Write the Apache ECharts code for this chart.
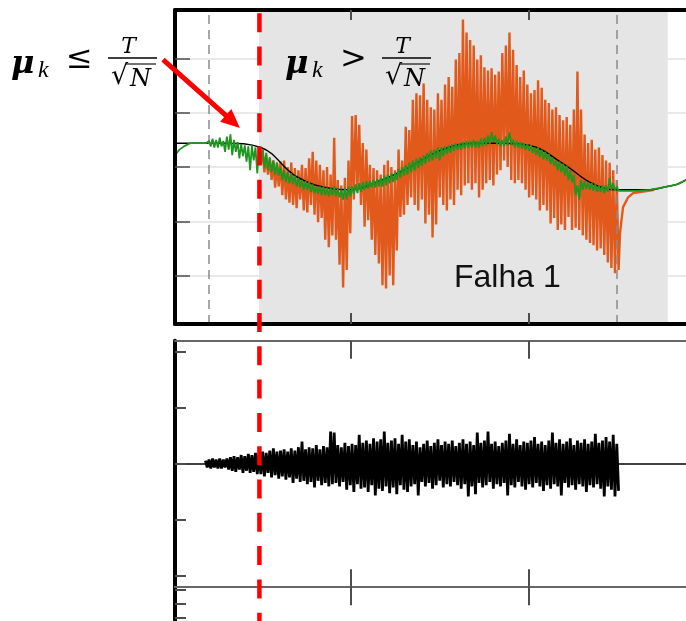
<!DOCTYPE html>
<html>
<head>
<meta charset="utf-8">
<script src="https://cdn.jsdelivr.net/npm/echarts@6/dist/echarts.min.js"></script>
<style>
  html, body { margin: 0; padding: 0; background: #fff; overflow: hidden; }
  #chart { width: 720px; height: 621px; }
</style>
</head>
<body>
<div id="chart"></div>
<script>
// ---- time base (samples) ----
const T_MIN = 20, T_MAX = 3000;
const STEP = 20;                       // sampling step of the recorded signals
const xTicks = [1000, 2000];
const yTicksTop = [-100, -50, 0, 50, 100];
const yTicksBottom = [-100, -50, 0, 50, 100];

// ---- events ----
const detectT = 492;                   // first sample where mu_k > T/sqrt(N)
const faultShade = [490, 2775];        // shaded fault window
const markerT = [210, 2490];           // fault onset / fault removal

// ---- reference trajectory ----
const refT = [20, 300, 500, 700, 900, 1000, 1100, 1300, 1500, 1700, 1850, 2000, 2200, 2350, 2490, 2676, 2771, 2827, 2877, 2950, 3000];
const refV = [22, 22, 18, -9, -20, -21, -17, -3, 15, 22, 22, 20, 2, -15, -21, -21, -18, -16, -12, -6, -1];

// ---- faulty measurement (upper / lower swing per sample) ----
const orangeStart = 490;
const orangeHi = [14,16,11,8,6,4,5,6,0,4,
  -1,-3,2,-1,8,14,6,2,-3,0,
  -7,27,-12,-17,-10,6,47,48,39,22,
  16,2,-1,-3,-7,2,6,0,-3,16,
  6,37,34,62,68,66,77,62,55,53,
  68,62,76,83,74,99,105,136,124,117,
  112,99,103,92,89,91,85,88,105,112,
  124,108,94,83,89,76,68,71,80,73,
  62,59,53,55,48,43,46,39,53,88,
  53,30,22,25,16,18,11,6,4,-3,
  -12];
const orangeLo = [2,-5,-7,-12,-19,-18,-26,-30,-33,-35,
  -38,-30,-40,-42,-35,-44,-51,-47,-67,-74,
  -63,-67,-90,-111,-95,-61,-30,-21,-35,-55,
  -49,-67,-81,-89,-109,-112,-100,-109,-77,-46,
  -44,-35,-28,-35,-40,-30,-52,-44,-65,-53,
  -28,-35,-40,-30,-35,-21,-26,-17,-15,-21,
  -15,-28,-21,-15,-12,-17,-7,-3,6,0,
  -12,-15,-12,-15,-21,-28,-26,-30,-40,-35,
  -40,-52,-47,-58,-53,-58,-46,-58,-56,-58,
  -63,-67,-70,-72,-77,-75,-81,-88,-93,-98,
  -95];
const orangeTailT = [2508, 2525, 2553, 2581, 2620, 2700];
const orangeTailV = [-61, -37, -28, -24, -23, -21];

// ---- estimate ----
const greenHeadT = [20, 45, 70, 105, 150, 195];
const greenHeadV = [11, 16, 19, 22, 22, 22];
const greenStart = 210;
const greenHi = [24,26,25,27,24,28,30,25,23,21,
  20,19,20,18,18,16,13,9,6,4,
  0,-3,-5,-6,-8,-10,-12,-13,-14,-16,
  -18,-18,-18,-19,-19,-18,-20,-21,-19,-18,
  -18,-16,-15,-14,-13,-13,-12,-11,-10,-8,
  -7,-6,-5,-2,0,2,4,6,8,9,
  11,13,15,16,18,18,19,20,21,22,
  22,23,24,24,25,24,26,27,29,32,
  29,26,25,28,32,25,24,23,22,21,
  20,18,18,16,14,12,9,6,5,3,
  1,-3,-7,-17,-12,-13,-14,-15,-16,-17,
  -17,-17,-10,-15,-18];
const greenLo = [19,18,18,19,14,16,11,14,8,10,
  5,-3,6,-6,2,-1,-3,-5,-7,-8,
  -12,-14,-15,-16,-18,-19,-21,-21,-23,-24,
  -25,-26,-26,-27,-26,-27,-28,-30,-30,-27,
  -25,-24,-23,-21,-20,-19,-19,-18,-18,-17,
  -15,-14,-12,-10,-8,-7,-5,-3,-1,1,
  3,5,6,8,6,10,12,13,15,16,
  16,17,18,18,18,18,19,20,21,23,
  21,19,19,20,21,18,18,17,16,15,
  13,11,9,7,6,3,1,-3,-5,-8,
  -12,-14,-26,-30,-21,-20,-21,-22,-23,-23,
  -24,-23,-21,-22,-22];
const greenTailT = [2510, 2600, 2676, 2771, 2827, 2877, 2950, 3000];
const greenTailV = [-21, -22, -21, -18, -16, -12, -6, -1];

// ---- injected disturbance (lower panel) ----
const vibLeadT = [20, 190];
const vibLeadV = [0, 0];
const vibStart = 190;
const vibHi = [3,4,5,4,5,4,5,
  6,7,6,8,7,9,8,10,
  10,11,10,12,14,11,12,
  13,11,14,12,15,20,13,
  15,14,17,13,16,15,29,28,
  17,15,19,16,18,17,26,
  19,21,18,23,20,22,29,19,21,23,18,26,20,22,
  17,20,15,18,21,16,19,22,17,20,18,21,16,19,22,18,20,17,28,19,21,29,18,20,16,19,21,27,18,22,
  17,20,19,21,24,18,20,17,21,28,19,22,18,20,23,17,21,19,22,18,20,27,19,21,24,20,26,18];
const vibLo = [-3,-4,-3,-4,-4,-3,-5,
  -6,-7,-5,-8,-6,-8,-7,-9,
  -9,-11,-8,-12,-10,-13,-11,
  -14,-12,-17,-13,-16,-15,-18,
  -16,-21,-15,-19,-17,-20,-18,-17,
  -20,-16,-23,-19,-25,-18,-22,
  -21,-25,-19,-28,-22,-24,-20,-26,-21,-27,-19,-23,-25,-20,
  -18,-28,-16,-20,-17,-22,-19,-15,-21,-18,-20,-16,-19,-22,-18,-29,-20,-27,-17,-21,-19,-16,-22,-18,-20,-17,-28,-19,-21,-16,
  -20,-23,-18,-21,-17,-20,-24,-19,-22,-18,-20,-28,-17,-21,-19,-23,-18,-20,-25,-19,-21,-18,-22,-29,-20,-23,-29,-24];
const vibTrailT = [2500, 3000];
const vibTrailV = [0, 0];

// ---- helpers ----
const pairs = (ts, vs) => ts.map((t, i) => [t, vs[i]]);
function swing(t0, hi, lo) {
  const out = [];
  for (let i = 0; i < hi.length; i++) {
    out.push([t0 + i * STEP, hi[i]]);
    out.push([t0 + i * STEP + STEP / 2, lo[i]]);
  }
  return out;
}

const TOP_MAX = 144.7, BOT_MAX = 110;
const TICK = '#4d4d4d';
const SERIF = '"Liberation Serif","DejaVu Serif",serif';
const MATH = '"DejaVu Serif","Liberation Serif",serif';

const chart = echarts.init(document.getElementById('chart'), null, { renderer: 'canvas' });

function xAxisDef(grid, pos, lineColor, lineWidth, tickLen) {
  return {
    gridIndex: grid, type: 'value', position: pos, min: T_MIN, max: T_MAX, z: 10,
    axisLine: { show: true, onZero: false, lineStyle: { color: lineColor, width: lineWidth } },
    axisTick: { show: true, inside: true, length: tickLen, customValues: xTicks, lineStyle: { color: TICK, width: 2 } },
    axisLabel: { show: false }, splitLine: { show: false }
  };
}

const option = {
  animation: false,
  backgroundColor: '#fff',
  grid: [
    { left: 175, top: 10, width: 533, height: 314 },
    { left: 175, top: 340.8, width: 533, height: 246.4 },
    { left: 175, top: 587.2, width: 533, height: 246.4 }
  ],
  xAxis: [
    xAxisDef(0, 'bottom', '#000', 4, 11),
    xAxisDef(0, 'top', '#000', 4, 10),
    xAxisDef(1, 'bottom', '#666', 2, 18),
    xAxisDef(1, 'top', '#666', 2, 18),
    xAxisDef(2, 'top', '#666', 2, 18)
  ],
  yAxis: [
    { gridIndex: 0, type: 'value', min: -TOP_MAX, max: TOP_MAX, z: 0,
      axisLine: { show: false }, axisTick: { show: false, customValues: yTicksTop }, axisLabel: { show: false },
      splitLine: { show: true, lineStyle: { color: '#e2e2e2', width: 1.5 } } },
    { gridIndex: 0, type: 'value', min: -TOP_MAX, max: TOP_MAX, z: 10, position: 'left',
      axisLine: { show: true, onZero: false, lineStyle: { color: '#000', width: 4 } },
      axisTick: { show: true, inside: true, length: 15, customValues: yTicksTop, lineStyle: { color: TICK, width: 1.5 } },
      axisLabel: { show: false }, splitLine: { show: false } },
    { gridIndex: 1, type: 'value', min: -BOT_MAX, max: BOT_MAX, z: 10,
      axisLine: { show: true, onZero: false, lineStyle: { color: '#000', width: 4 } },
      axisTick: { show: true, inside: true, length: 11, customValues: yTicksBottom, lineStyle: { color: TICK, width: 2 } },
      axisLabel: { show: false }, splitLine: { show: false } },
    { gridIndex: 2, type: 'value', min: -BOT_MAX, max: BOT_MAX, z: 10,
      axisLine: { show: true, onZero: false, lineStyle: { color: '#000', width: 4 } },
      axisTick: { show: true, inside: true, length: 11, customValues: yTicksBottom, lineStyle: { color: TICK, width: 2 } },
      axisLabel: { show: false }, splitLine: { show: false } }
  ],
  series: [
    { name: 'fault window', type: 'line', xAxisIndex: 0, yAxisIndex: 0, data: [], z: 1, silent: true,
      markArea: { silent: true, itemStyle: { color: '#e5e5e5' },
        data: [[{ xAxis: faultShade[0] }, { xAxis: faultShade[1] }]] } },
    { name: 'events', type: 'line', xAxisIndex: 0, yAxisIndex: 0, data: [], z: 2, silent: true,
      markLine: { silent: true, symbol: 'none', label: { show: false },
        lineStyle: { color: '#8a8a8a', type: [9, 6], width: 1.5 },
        data: markerT.map(t => ({ xAxis: t })) } },
    { name: 'measurement', type: 'line', xAxisIndex: 0, yAxisIndex: 0, z: 3, symbol: 'none',
      data: swing(orangeStart, orangeHi, orangeLo).concat(pairs(orangeTailT, orangeTailV)),
      lineStyle: { color: '#e2591c', width: 2.4, join: 'miter', miterLimit: 3 } },
    { name: 'reference', type: 'line', xAxisIndex: 0, yAxisIndex: 0, z: 4, symbol: 'none',
      data: pairs(refT, refV), smooth: 0.4,
      lineStyle: { color: '#000', width: 1.5 } },
    { name: 'estimate', type: 'line', xAxisIndex: 0, yAxisIndex: 0, z: 5, symbol: 'none',
      data: pairs(greenHeadT, greenHeadV).concat(swing(greenStart, greenHi, greenLo), pairs(greenTailT, greenTailV)),
      lineStyle: { color: '#1f961f', width: 1.8 } },
    { name: 'baseline before', type: 'line', xAxisIndex: 2, yAxisIndex: 2, z: 3, symbol: 'none',
      data: pairs(vibLeadT, vibLeadV), lineStyle: { color: '#000', width: 1.5 } },
    { name: 'disturbance', type: 'line', xAxisIndex: 2, yAxisIndex: 2, z: 3, symbol: 'none',
      data: swing(vibStart, vibHi, vibLo),
      lineStyle: { color: '#000', width: 2.8, join: 'miter', miterLimit: 3 } },
    { name: 'baseline after', type: 'line', xAxisIndex: 2, yAxisIndex: 2, z: 3, symbol: 'none',
      data: pairs(vibTrailT, vibTrailV), lineStyle: { color: '#000', width: 1.5 } },
    { name: 'lower', type: 'line', xAxisIndex: 4, yAxisIndex: 3, data: [] }
  ]
};
chart.setOption(option);

// ---- annotations ----
const arrowFrom = [-47, 99];
const arrowTo = [383, 36];

function mathLabel(ox, rel) {
  // mu_k <rel> T / sqrt(N); ox shifts the whole expression horizontally
  const t = (text, x, y, size, weight, style, family, align) => ({
    type: 'text', x: ox + x, y: y, z: 50,
    style: { text, fontFamily: family, fontSize: size, fontWeight: weight, fontStyle: style,
      fill: '#000', verticalAlign: 'middle', align: align || 'left' }
  });
  const l = (x1, y1, x2, y2, w) => ({
    type: 'line', z: 50, shape: { x1: ox + x1, y1, x2: ox + x2, y2 },
    style: { stroke: '#000', lineWidth: w }
  });
  return [
    t('μ', 11, 65, 32, 'bold', 'italic', MATH),
    t('k', 38, 71, 24, 'normal', 'italic', SERIF),
    t(rel, 66, 60, 32, 'normal', 'normal', MATH),
    t('T', 128.5, 47, 22, 'normal', 'italic', MATH, 'center'),
    l(108, 58, 157, 58, 1.3),
    t('√', 111, 77, 27, 'normal', 'normal', MATH),
    t('N', 130, 80, 24, 'normal', 'italic', MATH),
    l(126, 64, 156, 64, 1.1)
  ];
}

function drawAnnotations() {
  const xRed = chart.convertToPixel({ xAxisIndex: 0 }, detectT);
  const yTop = chart.convertToPixel({ yAxisIndex: 0 }, TOP_MAX);
  const p0 = chart.convertToPixel({ gridIndex: 0 }, arrowFrom);
  const p1 = chart.convertToPixel({ gridIndex: 0 }, arrowTo);
  const dx = p1[0] - p0[0], dy = p1[1] - p0[1];
  const len = Math.hypot(dx, dy), ux = dx / len, uy = dy / len;
  const headL = 19, headW = 8.5;
  const bx = p1[0] - ux * headL, by = p1[1] - uy * headL;

  const graphic = [
    { type: 'line', z: 40, shape: { x1: xRed, y1: yTop + 3.3, x2: xRed, y2: 640 },
      style: { stroke: '#ff0000', lineWidth: 4.5, lineDash: [19, 14.3] } },
    { type: 'line', z: 40, shape: { x1: p0[0], y1: p0[1], x2: bx + ux * 2, y2: by + uy * 2 },
      style: { stroke: '#ff0000', lineWidth: 5 } },
    { type: 'polygon', z: 40, shape: { points: [
        [p1[0], p1[1]],
        [bx - uy * headW, by + ux * headW],
        [bx + uy * headW, by - ux * headW]] },
      style: { fill: '#ff0000' } },
    { type: 'text', x: 454, y: 278, z: 45,
      style: { text: 'Falha 1', fontFamily: '"Liberation Sans", Arial, sans-serif', fontSize: 32,
        fill: '#111', verticalAlign: 'middle' } }
  ].concat(mathLabel(0, '≤'), mathLabel(274, '>'));
  chart.setOption({ graphic });
}
drawAnnotations();
</script>
</body>
</html>
